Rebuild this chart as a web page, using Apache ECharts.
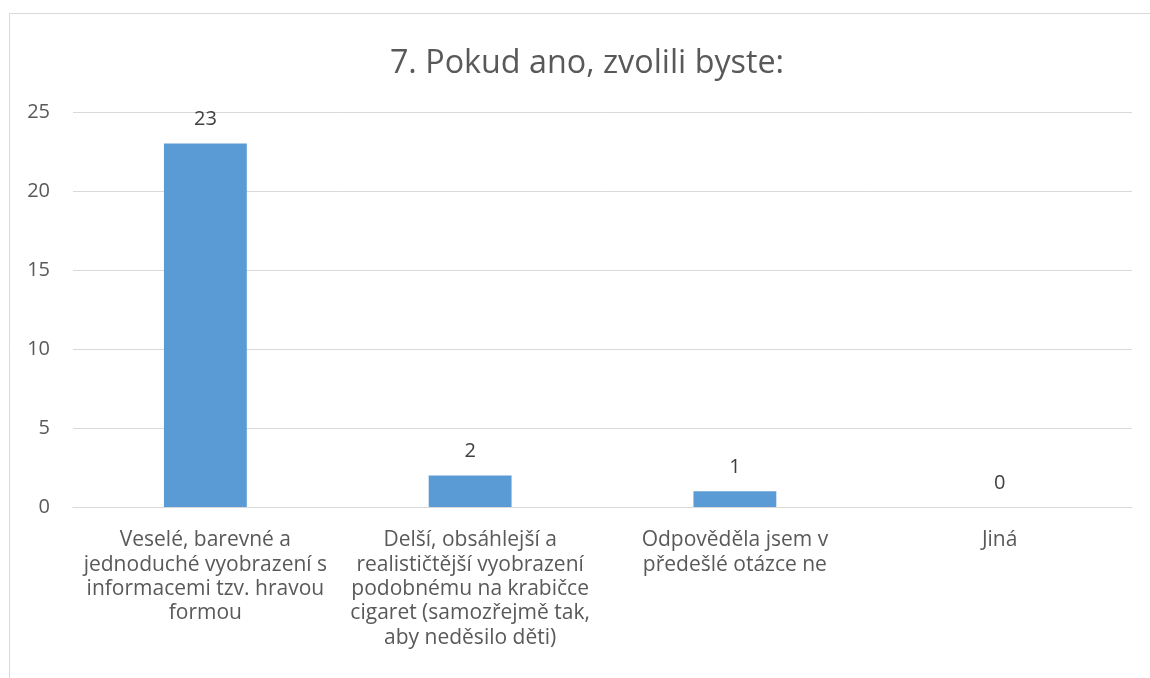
<!DOCTYPE html>
<html><head><meta charset="utf-8">
<script src="https://cdn.jsdelivr.net/npm/echarts@6/dist/echarts.min.js"></script>
<style>html,body{margin:0;padding:0;background:#fff}#c{width:1150px;height:678px}</style>
</head><body><div id="c"></div>
<script>
const titleText = "7. Pokud ano, zvolili byste:";
const categories = [
  "Veselé, barevné a\njednoduché vyobrazení s\ninformacemi tzv. hravou\nformou",
  "Delší, obsáhlejší a\nrealističtější vyobrazení\npodobnému na krabičce\ncigaret (samozřejmě tak,\naby neděsilo děti)",
  "Odpověděla jsem v\npředešlé otázce ne",
  "Jiná"
];
const values = [23, 2, 1, 0];
const yMin = 0, yMax = 25, yInterval = 5;

const FONT = "'Open Sans', sans-serif";
const chart = echarts.init(document.getElementById('c'), null, {renderer: 'canvas'});
chart.setOption({
  animation: false,
  backgroundColor: '#fff',
  graphic: [{
    type: 'rect', silent: true, z: -1,
    shape: {x: 9.5, y: 13.5, width: 1300, height: 800},
    style: {fill: '#fff', stroke: '#d9d9d9', lineWidth: 1}
  }],
  title: {
    text: titleText, left: 582, textAlign: 'center', top: 43,
    textStyle: {fontFamily: FONT, fontSize: 32.3, fontWeight: 'normal', color: '#595959'}
  },
  grid: {left: 73, right: 18, top: 112, bottom: 171, containLabel: false},
  xAxis: {
    type: 'category', data: categories,
    axisLine: {show: true, lineStyle: {color: '#d9d9d9', width: 1}},
    axisTick: {show: false},
    axisLabel: {interval: 0, margin: 21, color: '#595959', fontFamily: FONT, fontSize: 21, lineHeight: 24.4, align: 'center'}
  },
  yAxis: {
    type: 'value', min: yMin, max: yMax, interval: yInterval,
    axisLine: {show: false}, axisTick: {show: false},
    splitLine: {lineStyle: {color: '#d9d9d9', width: 1}},
    axisLabel: {margin: 23, color: '#595959', fontFamily: FONT, fontSize: 20}
  },
  series: [{
    type: 'bar', data: values, barWidth: '31.3%',
    itemStyle: {color: '#5b9bd5'},
    label: {show: true, position: 'top', distance: 14, color: '#404040', fontFamily: FONT, fontSize: 20}
  }]
});
</script></body></html>
